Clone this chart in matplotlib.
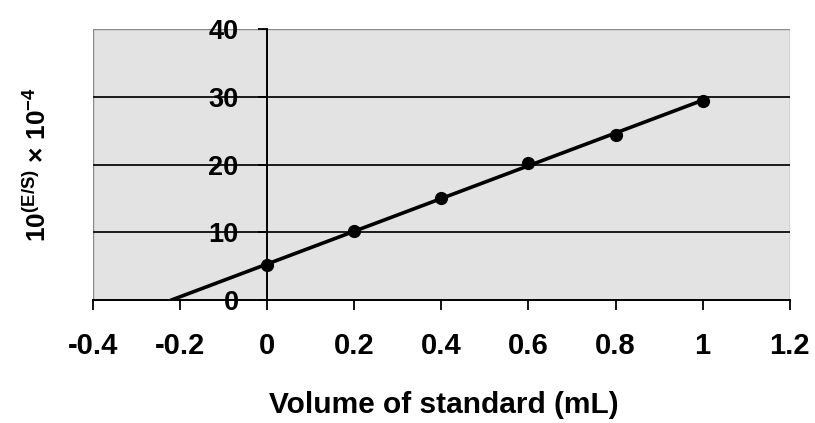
import numpy as np
import matplotlib
matplotlib.use("Agg")
import matplotlib.pyplot as plt
from matplotlib.patches import Rectangle

plt.rcParams['font.family'] = ['Liberation Sans', 'DejaVu Sans']
plt.rcParams['mathtext.default'] = 'regular'

# standard additions
volume = [0.0, 0.2, 0.4, 0.6, 0.8, 1.0]
signal = [5.1, 10.2, 15.0, 20.3, 24.4, 29.4]
x_ticks = [-0.4, -0.2, 0, 0.2, 0.4, 0.6, 0.8, 1.0, 1.2]
x_labels = ['-0.4', '-0.2', '0', '0.2', '0.4', '0.6', '0.8', '1', '1.2']
y_ticks = [0, 10, 20, 30, 40]

# least squares line, drawn from the x intercept to the last point
slope, intercept = np.polyfit(volume, signal, 1)
x_int = -intercept / slope
fit_x = np.array([x_int, volume[-1]])
fit_y = slope * fit_x + intercept

fig = plt.figure(figsize=(8.15, 4.23), dpi=100)
ax = fig.add_axes([0.114, 0.291, 0.855, 0.640])
ax.set_facecolor('#e3e3e3')

ax.set_xlim(-0.4, 1.2)
ax.set_ylim(0, 40)

# horizontal gridlines
for yv in y_ticks[1:-1]:
    ax.axhline(yv, color='#1a1a1a', lw=1.4, zorder=1)

ax.plot(fit_x, fit_y, color='black', lw=2.6, zorder=3)
ax.plot(volume, signal, 'o', color='black', ms=8.5, zorder=4)

# frame of the plot area
for s in ['top', 'right']:
    ax.spines[s].set_visible(False)
ax.add_patch(Rectangle((0, 0), 1, 1, transform=ax.transAxes, fill=False,
                       edgecolor='#8a8a8a', lw=1.0, zorder=0.5))

ax.spines['left'].set_position(('data', 0))
ax.spines['left'].set_linewidth(1.4)
ax.spines['bottom'].set_linewidth(1.4)
ax.spines['left'].set_zorder(2)

ax.set_xticks(x_ticks)
ax.set_xticklabels(x_labels)
ax.set_yticks(y_ticks)
ax.tick_params(axis='x', direction='out', length=7, width=1.3, pad=16,
               labelsize=21)
ax.tick_params(axis='y', direction='out', length=6.5, width=1.3, pad=14,
               labelsize=19.5)
for lab in ax.get_xticklabels() + ax.get_yticklabels():
    lab.set_fontweight('bold')

fig.text(0.545, 0.024, 'Volume of standard (mL)', ha='center', va='baseline',
         fontsize=21.5, fontweight='bold')
fig.text(0.046, 0.611, r'$10^{(E/S)}$ × $10^{-4}$', rotation=90,
         ha='center', va='center', fontsize=19, fontweight='bold')

fig.savefig('out.png', dpi=100)
